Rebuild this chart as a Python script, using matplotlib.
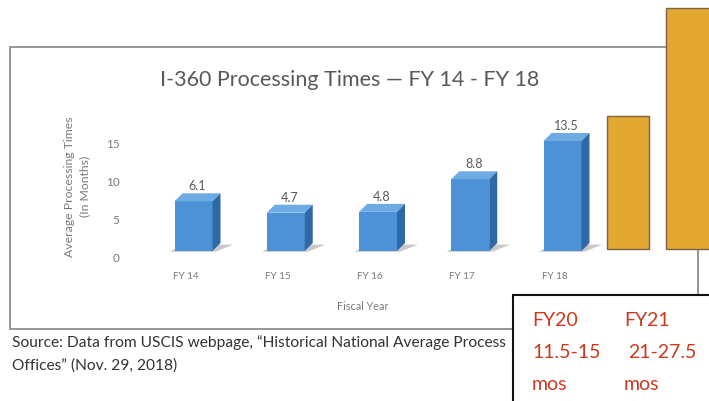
import matplotlib.pyplot as plt
from matplotlib.patches import Polygon, Rectangle
from matplotlib.transforms import ScaledTranslation

plt.rcParams['font.family'] = ['Lato', 'DejaVu Sans']

# chart data
years = ['FY 14', 'FY 15', 'FY 16', 'FY 17', 'FY 18']
months = [6.1, 4.7, 4.8, 8.8, 13.5]
y_ticks = [0, 5, 10, 15]

# hand-drawn orange bars pasted on the right (FY20, FY21)
overlay_heights = [16.35, 29.55]
overlay_base = 0.25
note_years = ['FY20', 'FY21']
note_ranges = ['11.5-15', '21-27.5']

title = 'I-360 Processing Times \u2014 FY 14 - FY 18'
source_1 = 'Source: Data from USCIS webpage, \u201cHistorical National Average Process'
source_2 = 'Offices\u201d (Nov. 29, 2018)'

W, H = 709, 402
PX_X = 92.25   # pixels per category
PX_Y = 8.15    # pixels per month (front of bars)


def box(left, top, right, bottom):
    return [left / W, 1 - bottom / H, (right - left) / W, (bottom - top) / H]


fig = plt.figure(figsize=(W / 100, H / 100), dpi=100)

# background layer: frame, title, source note
bg = fig.add_axes([0, 0, 1, 1], zorder=0)
bg.set_xlim(0, W)
bg.set_ylim(H, 0)
bg.axis('off')
bg.add_patch(Rectangle((10, 48), 688, 282, fill=False, ec='#8c8c8c', lw=1.3))
bg.text(350, 80, title, ha='center', va='center', fontsize=15.5, color='#595959')
bg.text(12, 343, source_1, ha='left', va='center', fontsize=11.2, color='#333333')
bg.text(12, 366, source_2, ha='left', va='center', fontsize=11.2, color='#333333')

# back wall axis (tick labels)
wall = fig.add_axes(box(125, 143, 600, 258), zorder=1)
wall.set_ylim(0, 15)
wall.set_xlim(0, 1)
wall.patch.set_visible(False)
for s in wall.spines.values():
    s.set_visible(False)
wall.set_xticks([])
wall.set_yticks(y_ticks)
wall.tick_params(axis='y', length=0, pad=4, labelsize=8.5, labelcolor='#7a7a7a')
wall.set_ylabel('Average Processing Times\n(In Months)', fontsize=8.8,
                color='#7a7a7a', linespacing=1.5, va='center')
wall.yaxis.set_label_coords(-0.101, 0.62)

# bars
ax = fig.add_axes(box(125, 252 - 16 * PX_Y, 600, 252), zorder=2)
ax.set_ylim(0, 16)
ax.set_xlim((125 - 193.5) / PX_X, (600 - 193.5) / PX_X)
ax.patch.set_visible(False)
for s in ax.spines.values():
    s.set_visible(False)

dx, dy = 8 / PX_X, 8 / PX_Y
bars = ax.bar(range(len(years)), months, width=38 / PX_X, color='#4d92d6', zorder=3)
for rect, v in zip(bars, months):
    x0, w, h = rect.get_x(), rect.get_width(), rect.get_height()
    ax.add_patch(Polygon([(x0 - 0.05, -0.1), (x0 + w + 0.03, -0.1),
                          (x0 + w + dx + 0.14, dy * 0.8), (x0 + dx, dy * 0.8)],
                         closed=True, fc='#c9c9c9', ec='none', zorder=2, clip_on=False))
    ax.add_patch(Polygon([(x0, h), (x0 + w, h), (x0 + w + dx, h + dy), (x0 + dx, h + dy)],
                         closed=True, fc='#6fabe3', ec='none', zorder=3, clip_on=False))
    ax.add_patch(Polygon([(x0 + w, 0), (x0 + w + dx, dy), (x0 + w + dx, h + dy), (x0 + w, h)],
                         closed=True, fc='#2e69a6', ec='none', zorder=3, clip_on=False))
    ax.annotate(f'{v}', (rect.get_x() + w / 2, h), xytext=(4, 10), textcoords='offset pixels',
                ha='center', va='bottom', fontsize=9, color='#595959', annotation_clip=False)

ax.set_xticks(range(len(years)))
ax.set_xticklabels(years)
ax.set_yticks([])
ax.tick_params(axis='x', length=0, pad=14.5, labelsize=7.2, labelcolor='#7a7a7a')
shift = ScaledTranslation(-8 / 100, 0, fig.dpi_scale_trans)
for lab in ax.get_xticklabels():
    lab.set_transform(lab.get_transform() + shift)
ax.set_xlabel('Fiscal Year', fontsize=7.8, color='#7a7a7a', va='center')
ax.xaxis.set_label_coords(0.5, (252 - 307) / (16 * PX_Y))

# orange overlay bars
ax.bar([(628 - 193.5) / PX_X, (666 - 193.5) / PX_X + 0.3], overlay_heights,
       width=[42 / PX_X, 0.6], bottom=overlay_base, color='#e3a832',
       edgecolor='#7d6242', lw=1.0, zorder=5, clip_on=False)

# note box on top
note = fig.add_axes([0, 0, 1, 1], zorder=3)
note.set_xlim(0, W)
note.set_ylim(H, 0)
note.axis('off')
note.add_patch(Rectangle((513, 296), 220, 130, fc='white', ec='#111111', lw=1.5))
red = '#cc3a1e'
for col, (yr, rng) in enumerate(zip(note_years, note_ranges)):
    x = 532 + col * 92
    note.text(x, 321, yr, ha='left', va='center', fontsize=14, color=red)
    note.text(x + (4 if col else 0), 353, rng, ha='left', va='center', fontsize=14, color=red)
    note.text(x, 385, 'mos', ha='left', va='center', fontsize=14, color=red)

fig.savefig('out.png', dpi=100)
